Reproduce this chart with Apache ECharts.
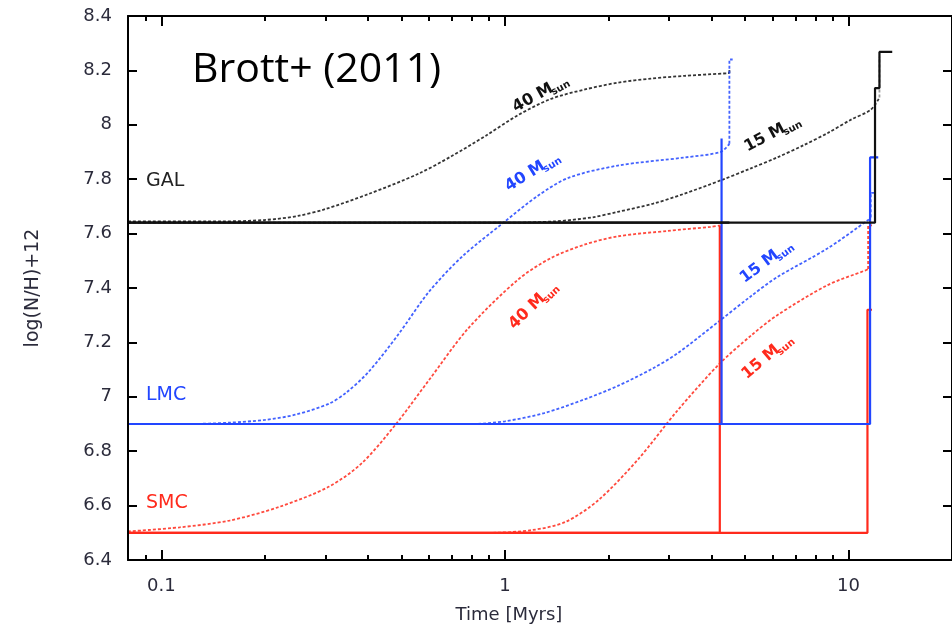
<!DOCTYPE html>
<html>
<head>
<meta charset="utf-8">
<script src="https://cdn.jsdelivr.net/npm/echarts@6/dist/echarts.min.js"></script>
<style>
html,body{margin:0;padding:0;background:#fff;}
#chart{width:952px;height:638px;}
</style>
</head>
<body>
<div id="chart"></div>
<script>
// ---- axis settings / tick labels ----
const xMin = 0.08, xMax = 20;
const xMajorTicks = [0.1, 1, 10];
const xMinorTicks = [0.09, 0.2, 0.3, 0.4, 0.5, 0.6, 0.7, 0.8, 0.9, 2, 3, 4, 5, 6, 7, 8, 9, 20];
const yMin = 6.4, yMax = 8.4, yStep = 0.2;

// ---- rotating models (dotted curves): [time Myr, log(N/H)+12] ----
const gal40Rot = [[0.08,7.645],[0.15,7.645],[0.2,7.65],[0.25,7.665],[0.3,7.69],[0.4,7.745],[0.56,7.82],[0.7,7.885],[0.88,7.96],[1.09,8.035],[1.36,8.095],[1.71,8.13],[2.13,8.155],[2.66,8.17],[3.34,8.18],[4.5,8.19]];
const gal15Rot = [[0.08,7.64],[1.0,7.64],[1.4,7.645],[1.8,7.66],[2.13,7.68],[2.7,7.71],[3.3,7.745],[4.27,7.797],[5.2,7.84],[6.2,7.88],[7.4,7.925],[8.7,7.97],[10.2,8.02],[11.6,8.055],[12.3,8.10]];
const lmc40Rot = [[0.08,6.90],[0.12,6.90],[0.158,6.905],[0.2,6.915],[0.247,6.935],[0.308,6.975],[0.345,7.015],[0.4,7.09],[0.49,7.23],[0.6,7.385],[0.75,7.515],[0.99,7.64],[1.25,7.74],[1.53,7.805],[2.13,7.85],[3.34,7.88],[4.24,7.90],[4.5,7.93]];
const lmc15Rot = [[0.08,6.90],[0.8,6.90],[1.0,6.91],[1.3,6.94],[1.7,6.99],[2.13,7.04],[2.7,7.105],[3.18,7.16],[4.27,7.285],[5.2,7.37],[6.2,7.44],[8.67,7.545],[11.4,7.65],[11.6,7.66]];
const smc40Rot = [[0.08,6.505],[0.113,6.52],[0.158,6.545],[0.22,6.595],[0.308,6.67],[0.384,6.757],[0.482,6.90],[0.6,7.06],[0.78,7.25],[1.09,7.43],[1.36,7.51],[1.71,7.56],[2.13,7.59],[2.98,7.61],[3.97,7.625],[4.22,7.63]];
const smc15Rot = [[0.08,6.50],[0.9,6.50],[1.2,6.51],[1.5,6.54],[1.87,6.62],[2.44,6.77],[3.18,6.95],[4.2,7.12],[5.2,7.225],[6.2,7.30],[8.67,7.41],[11.2,7.465],[11.4,7.47]];

// ---- final jumps of the rotating models ----
const gal40RotEnd = [[4.5,8.19],[4.5,8.205]];
const gal15RotEnd = [[12.3,8.10],[12.3,8.25]];
const lmc40RotEnd = [[4.5,7.93],[4.5,8.24],[4.6,8.24]];
const lmc15RotEnd = [[11.6,7.66],[11.6,7.75],[12.0,7.75]];
const smc15RotEnd = [[11.4,7.47],[11.4,7.63],[11.7,7.63]];

// ---- non-rotating models (solid lines) ----
const gal40Std = [[0.08,7.64],[4.5,7.64]];
const gal15Std = [[0.08,7.64],[11.94,7.64],[11.94,8.135],[12.3,8.135],[12.3,8.268],[13.4,8.268]];
const lmc40Std = [[0.08,6.90],[4.27,6.90],[4.27,7.95]];
const lmc15Std = [[0.08,6.90],[11.55,6.90],[11.55,7.88],[12.2,7.88]];
const smc40Std = [[0.08,6.50],[4.22,6.50],[4.22,7.63]];
const smc15Std = [[0.08,6.50],[11.35,6.50],[11.35,7.32],[11.7,7.32]];

const BLACK = '#111111', BLUE = '#2246ff', RED = '#ff2a1c';
const FONT = 'DejaVu Sans';
const GRID = {left:128, top:16, width:826, height:544, containLabel:false};

function dotted(name, data, color, smooth) {
  return {name, type:'line', data, showSymbol:false, symbol:'none', animation:false, smooth: smooth ? 0.3 : false,
    lineStyle:{color, width:1.8, type:[3,2], opacity:0.85}, z:2};
}
function solid(name, data, color) {
  return {name, type:'line', data, showSymbol:false, symbol:'none', animation:false,
    lineStyle:{color, width:2.2}, z:3};
}

function xAxisDef(gridIndex, position, ticks, len, showLine, showLabel) {
  return {type:'log', gridIndex, min:xMin, max:xMax, logBase:10, position,
    axisLine:{show:showLine, onZero:false, lineStyle:{color:'#000', width:2}},
    axisTick:{show:true, inside:true, length:len, customValues:ticks, lineStyle:{color:'#000', width:2}},
    axisLabel:{show:showLabel, customValues:xMajorTicks, margin:17, color:'#2b2b3b', fontFamily:FONT, fontSize:18,
      formatter:(v)=>String(+(+v).toPrecision(3))},
    splitLine:{show:false}, minorTick:{show:false}, z:5};
}
function yAxisDef(gridIndex, position, showLabel, showTick) {
  return {type:'value', gridIndex, min:yMin, max:yMax, interval:yStep, position,
    axisLine:{show:showTick, lineStyle:{color:'#000', width:2}},
    axisTick:{show:showTick, inside:true, length:9, lineStyle:{color:'#000', width:2}},
    axisLabel:{show:showLabel, margin:16, color:'#2b2b3b', fontFamily:FONT, fontSize:18,
      formatter:(v)=>String(+(+v).toFixed(1))},
    splitLine:{show:false}, z:5};
}

const yMain = Object.assign(yAxisDef(0, 'left', true, true), {
  name:'log(N/H)+12', nameLocation:'middle', nameGap:85, nameRotate:90,
  nameTextStyle:{fontFamily:FONT, fontSize:19, color:'#2b2b3b'}});

const option = {
  animation:false,
  backgroundColor:'#fff',
  grid:[GRID, Object.assign({}, GRID)],
  xAxis:[
    Object.assign(xAxisDef(0, 'bottom', xMajorTicks, 10, true, true), {name:'Time [Myrs]', nameLocation:'middle', nameGap:46,
      nameTextStyle:{fontFamily:FONT, fontSize:18, color:'#2b2b3b', padding:[0,62,0,0]}}),
    xAxisDef(0, 'top', xMajorTicks, 10, true, false),
    xAxisDef(1, 'bottom', xMinorTicks, 5, false, false),
    xAxisDef(1, 'top', xMinorTicks, 5, false, false)
  ],
  yAxis:[
    yMain,
    yAxisDef(0, 'right', false, true),
    yAxisDef(1, 'left', false, false)
  ],
  series:[
    dotted('GAL 40 rot', gal40Rot, BLACK, true),
    dotted('GAL 15 rot', gal15Rot, BLACK, true),
    dotted('LMC 40 rot', lmc40Rot, BLUE, true),
    dotted('LMC 15 rot', lmc15Rot, BLUE, true),
    dotted('SMC 40 rot', smc40Rot, RED, true),
    dotted('SMC 15 rot', smc15Rot, RED, true),
    dotted('GAL 40 rot end', gal40RotEnd, BLACK, false),
    dotted('GAL 15 rot end', gal15RotEnd, '#888888', false),
    dotted('LMC 40 rot end', lmc40RotEnd, BLUE, false),
    dotted('LMC 15 rot end', lmc15RotEnd, BLUE, false),
    dotted('SMC 15 rot end', smc15RotEnd, RED, false),
    solid('SMC 40', smc40Std, RED),
    solid('SMC 15', smc15Std, RED),
    solid('LMC 40', lmc40Std, BLUE),
    solid('LMC 15', lmc15Std, BLUE),
    solid('GAL 40', gal40Std, BLACK),
    solid('GAL 15', gal15Std, BLACK)
  ]
};

function massLabel(mass, cx, cy, angleDeg, color) {
  return {type:'group', x:cx, y:cy, rotation:angleDeg*Math.PI/180, z:10,
    children:[
      {type:'text', x:-30, y:0, style:{text:mass+' M', fill:color, font:'bold 16px "DejaVu Sans"', textAlign:'left', textVerticalAlign:'middle'}},
      {type:'text', x:11, y:5, style:{text:'sun', fill:color, font:'bold 10px "DejaVu Sans"', textAlign:'left', textVerticalAlign:'middle'}}
    ]};
}

option.graphic = [
  {type:'text', left:192, top:50, style:{text:'Brott+ (2011)', fill:'#000', font:'41px "Open Sans"'}},
  {type:'text', left:146, top:172, style:{text:'GAL', fill:'#222', font:'19px "DejaVu Sans"'}},
  {type:'text', left:146, top:386, style:{text:'LMC', fill:BLUE, font:'19px "DejaVu Sans"'}},
  {type:'text', left:146, top:494, style:{text:'SMC', fill:RED, font:'19px "DejaVu Sans"'}},
  massLabel('40', 540, 94, 29, BLACK),
  massLabel('40', 532, 172, 32, BLUE),
  massLabel('40', 533, 306, 44, RED),
  massLabel('15', 772, 134, 28, BLACK),
  massLabel('15', 766, 262, 37, BLUE),
  massLabel('15', 767, 357, 40, RED)
];

const chart = echarts.init(document.getElementById('chart'), null, {renderer:'canvas'});
chart.setOption(option);
</script>
</body>
</html>
